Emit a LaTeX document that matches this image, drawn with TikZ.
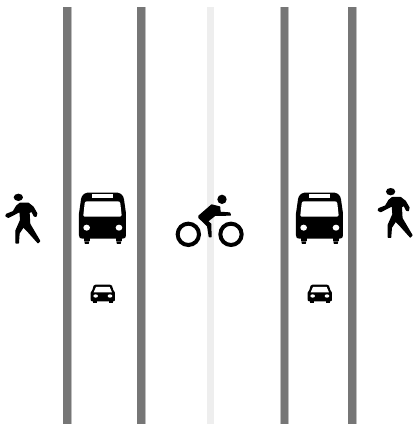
\documentclass[tikz,border=0pt]{standalone}
\definecolor{roadline}{RGB}{118,118,118}
\definecolor{roadedge}{RGB}{190,190,190}
\definecolor{bikeline}{RGB}{238,238,238}
\tikzset{
  laneedge/.style={draw=roadline,line width=7.2pt},
  lanehalo/.style={draw=roadedge,line width=9pt},
  bikecentre/.style={draw=bikeline,line width=7pt},
  icon/.style={fill=black,draw=black,line width=1.3pt,line join=round},
  solid icon/.style={fill=black,draw=none},
  cutout/.style={fill=white,draw=none},
  wheel/.style={draw=black,line width=4pt,fill=none},
}
\newcommand{\walker}{%
  \fill[solid icon] (55,82) ellipse (14 and 11);
  \filldraw[icon] (60,100) -- (85,100) -- (99,111) -- (110,130) -- (108,139) -- (103,138) -- (95,123) -- (87,128) -- (89,162) -- (119,213) -- (114,218) -- (80,180) -- (70,170) -- (57,190) -- (55,219) -- (48,219) -- (48,182) -- (62,150) -- (60,124) -- (25,142) -- (18,138) -- (20,133) -- (40,125) -- (50,108) -- cycle;
}
\newcommand{\coach}{%
  \fill[solid icon] (251,200) rectangle (270,214);
  \fill[solid icon] (253,214) -- (268,214) -- (266,222) -- (255,222) -- cycle;
  \fill[solid icon] (347,200) rectangle (366,214);
  \fill[solid icon] (349,214) -- (364,214) -- (362,222) -- (351,222) -- cycle;
  \fill[solid icon] (237,196) -- (237,130) -- (243,88) .. controls (245,76) and (252,70) .. (262,68) -- (353,68) .. controls (363,70) and (370,76) .. (372,88) -- (378,130) -- (378,196) .. controls (378,203) and (375,206) .. (368,206) -- (247,206) .. controls (240,206) and (237,203) .. (237,196) -- cycle;
  \fill[cutout] (254,100) .. controls (255,96) and (257,94) .. (261,94) -- (354,94) .. controls (358,94) and (360,96) .. (361,100) -- (365,136) .. controls (365,139) and (364,140) .. (361,140) -- (254,140) .. controls (251,140) and (250,139) .. (250,136) -- cycle;
  \fill[cutout] (277,73) rectangle (340,83);
  \fill[cutout] (260,173) ellipse (10 and 9);
  \fill[cutout] (357,173) ellipse (10 and 9);
}
\newcommand{\auto}{%
  \fill[solid icon] (278,388) rectangle (291,400);
  \fill[solid icon] (326,388) rectangle (339,400);
  \fill[solid icon] (272,388) -- (272,368) -- (277,360) -- (281,347) .. controls (282,345) and (284,344) .. (287,344) -- (330,344) .. controls (333,344) and (335,345) .. (336,347) -- (340,360) -- (345,368) -- (345,388) .. controls (345,392) and (344,394) .. (340,394) -- (277,394) .. controls (273,394) and (272,392) .. (272,388) -- cycle;
  \fill[cutout] (288,351) -- (329,351) -- (336,367) -- (281,367) -- cycle;
  \fill[cutout] (287,378) ellipse (7 and 5);
  \fill[cutout] (330,378) ellipse (7 and 5);
}
\begin{document}
\begin{tikzpicture}[x=1pt,y=-1pt]
  \useasboundingbox (0,0) rectangle (413,424);
  \fill[white] (0,0) rectangle (413,424);
  \coordinate (l1t) at (67,7);   \coordinate (l1b) at (67,424);
  \coordinate (l2t) at (141,7);  \coordinate (l2b) at (141,424);
  \coordinate (l3t) at (210.5,7);\coordinate (l3b) at (210.5,424);
  \coordinate (l4t) at (284.5,7);\coordinate (l4b) at (284.5,424);
  \coordinate (l5t) at (352,7);  \coordinate (l5b) at (352,424);
  \draw[bikecentre] (l3t) -- (l3b);
  \foreach \a/\b in {l1t/l1b,l2t/l2b,l4t/l4b,l5t/l5b}{
    \draw[lanehalo] (\a) -- (\b);
    \draw[laneedge] (\a) -- (\b);
  }
  % icons drawn at 1/3 scale of the crop grid
  \begin{scope}[shift={(0,170)},x=0.3333pt,y=-0.3333pt]\walker\end{scope}
  \begin{scope}[shift={(372.3,164.3)},x=0.3333pt,y=-0.3333pt]\walker\end{scope}
  \begin{scope}[shift={(0,170)},x=0.3333pt,y=-0.3333pt]\coach\auto\end{scope}
  \begin{scope}[shift={(217,170)},x=0.3333pt,y=-0.3333pt]\coach\auto\end{scope}
  \begin{scope}[shift={(165,180)},x=0.3333pt,y=-0.3333pt]
    \draw[wheel] (70,163) circle (32);
    \draw[wheel] (198,163) circle (32);
    \fill[solid icon] (171,58) circle (14);
    \filldraw[icon] (102,108) -- (140,75) -- (164,81) -- (165,97) -- (194,99) -- (196,105) -- (150,106) -- (127,124) -- (137,132) -- (138,170) -- (133,170) -- (128,138) -- (102,113) -- cycle;
  \end{scope}
\end{tikzpicture}
\end{document}
